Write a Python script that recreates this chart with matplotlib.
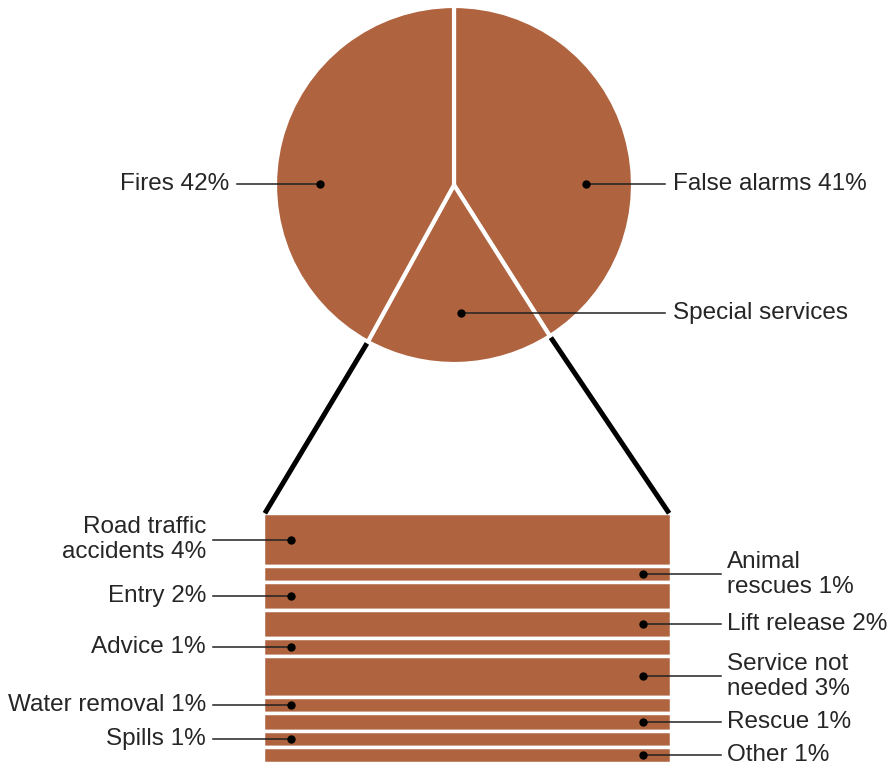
import matplotlib
matplotlib.use("Agg")
import matplotlib.pyplot as plt
from matplotlib.patches import ConnectionPatch
import numpy as np

plt.rcParams['font.family'] = ['Liberation Sans', 'DejaVu Sans']

# pie data (percent of incidents)
pie_labels = ["False alarms 41%", "Special services", "Fires 42%"]
pie_values = [41, 17, 42]

# breakdown of special services (top to bottom)
sub_labels = ["Road traffic\naccidents 4%", "Animal\nrescues 1%", "Entry 2%", "Lift release 2%",
              "Advice 1%", "Service not\nneeded 3%", "Water removal 1%", "Rescue 1%",
              "Spills 1%", "Other 1%"]
sub_values = [3.6, 1.1, 1.9, 1.9, 1.2, 2.8, 1.1, 1.2, 1.1, 1.1]
sub_side = ["left", "right", "left", "right", "left", "right", "left", "right", "left", "right"]

col = "#AF633F"
W, H = 891, 763
fig = plt.figure(figsize=(W / 100, H / 100), dpi=100)

def box(x0, y0, x1, y1):
    # pixel box (top-left origin) -> figure fraction
    return [x0 / W, 1 - y1 / H, (x1 - x0) / W, (y1 - y0) / H]

# pie
ax_pie = fig.add_axes(box(275, 6, 633, 364))
wedges, _ = ax_pie.pie(pie_values, startangle=90, counterclock=False, colors=[col] * 3,
                       wedgeprops=dict(edgecolor="white", linewidth=3))
ax_pie.set_xlim(-1, 1)
ax_pie.set_ylim(-1, 1)
ax_pie.set_aspect("equal")
ax_pie.axis("off")

# stacked bar
ax_bar = fig.add_axes(box(263.25, 513.3, 670.75, 762.8))
bottoms = np.concatenate([[0], np.cumsum(sub_values)[:-1]])
ax_bar.bar([0.5] * len(sub_values), sub_values, bottom=bottoms, width=1.0, color=col,
           edgecolor="white", linewidth=2.5)
ax_bar.set_xlim(0, 1)
ax_bar.set_ylim(sum(sub_values), 0)
ax_bar.axis("off")

# connectors from the special services wedge to the bar
a_lo = min(wedges[1].theta1, wedges[1].theta2)
a_hi = max(wedges[1].theta1, wedges[1].theta2)
r = 1.01
for ang, corner in [(a_lo, (0.004, 1.0)), (a_hi, (0.996, 1.0))]:
    a = np.deg2rad(ang)
    cp = ConnectionPatch(xyA=(r * np.cos(a), r * np.sin(a)), coordsA=ax_pie.transData,
                         xyB=corner, coordsB=ax_bar.transAxes, color="black",
                         linewidth=3.6, capstyle="butt")
    fig.add_artist(cp)

# overlay for labels in pixel space
ov = fig.add_axes([0, 0, 1, 1], facecolor="none")
ov.set_xlim(0, W)
ov.set_ylim(H, 0)
ov.axis("off")

def to_px(ax, pt):
    x, y = ax.transData.transform(pt)
    return x, H - y

def label(dot, x_line, x_text, text, ha):
    ov.plot([dot[0], x_line], [dot[1], dot[1]], color="#222222", linewidth=1.1)
    ov.plot(dot[0], dot[1], "o", color="black", markersize=5)
    ov.text(x_text, dot[1], text, ha=ha, va="center", fontsize=17.5,
            color="#262626", linespacing=1.17)

# pie labels
pie_dots = {"Fires 42%": (-0.749, 0.006), "False alarms 41%": (0.737, 0.006),
            "Special services": (0.039, -0.715)}
for name in pie_labels:
    d = to_px(ax_pie, pie_dots[name])
    if d[0] < 454:
        label(d, 237, 229, name, "right")
    else:
        label(d, 665, 673, name, "left")

# bar labels
centers = bottoms + np.array(sub_values) / 2
for name, c, side in zip(sub_labels, centers, sub_side):
    if side == "left":
        d = to_px(ax_bar, (0.069, c))
        label(d, 213, 206, name, "right")
    else:
        d = to_px(ax_bar, (0.933, c))
        label(d, 721, 727, name, "left")

plt.savefig("out.png", dpi=100)
